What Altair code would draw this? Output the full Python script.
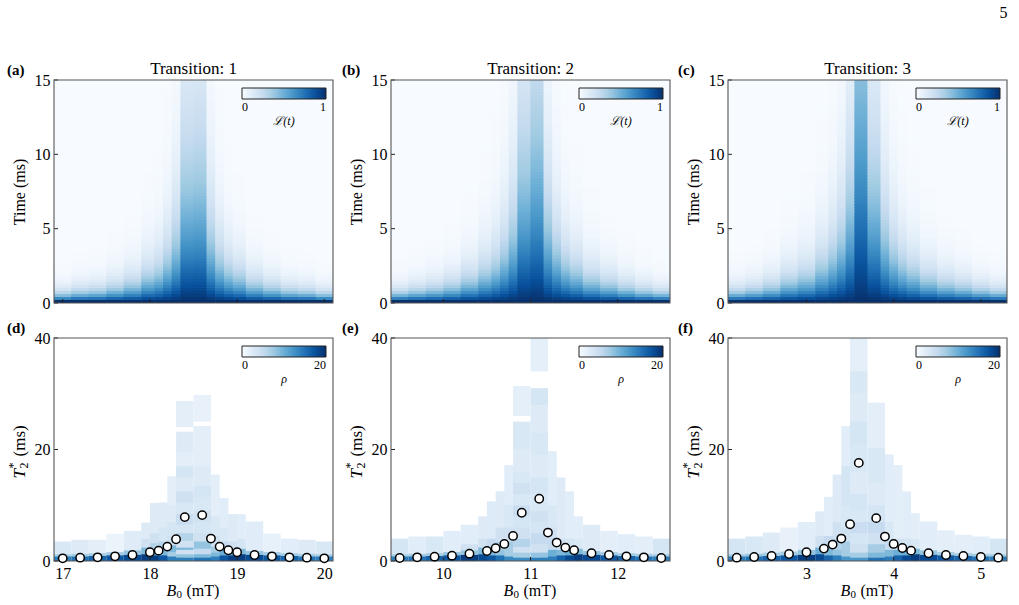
import altair as alt
import numpy as np
import pandas as pd

FONT = "Liberation Serif"
BLUES = ["#f7fbff", "#deebf7", "#c6dbef", "#9ecae1", "#6baed6",
         "#4292c6", "#2171b5", "#08519c", "#08306b"]

W, H = 279, 223

# ---- transition 1 ----
b0_1 = [17.0, 17.2, 17.4, 17.6, 17.8, 18.0, 18.1, 18.2, 18.3, 18.4,
        18.6, 18.7, 18.8, 18.9, 19.0, 19.2, 19.4, 19.6, 19.8, 20.0]
t2_1 = [0.48, 0.60, 0.66, 0.84, 1.08, 1.56, 1.86, 2.58, 3.90, 7.87,
        8.23, 4.02, 2.58, 1.92, 1.56, 1.08, 0.84, 0.66, 0.60, 0.48]
# T2* histogram per field column: [upper edge (ms), density]
rho_1 = [
    [[0.8, 14], [1.2, 7], [3.5, 3.0]],
    [[0.8, 15], [1.3, 7], [3.8, 2.5]],
    [[0.9, 16], [1.4, 7], [3.8, 2.0]],
    [[1.0, 17], [1.6, 7], [4.9, 1.2]],
    [[1.1, 18], [1.9, 8], [5.4, 2.4]],
    [[1.2, 19], [2.4, 9], [4.0, 4], [6.9, 2.5]],
    [[1.0, 19], [2.0, 10], [3.2, 6], [5.0, 4], [10.4, 2.5]],
    [[1.0, 17], [2.0, 9], [3.5, 6], [6.0, 3.5], [10.5, 2.5]],
    [[0.8, 14], [1.6, 7], [2.8, 9], [4.5, 4], [7.0, 3.5], [10, 2.5], [15.2, 2.0]],
    [[0.6, 14], [1.2, 8], [2.0, 4], [2.4, 9], [3.6, 4], [5.0, 6], [6.5, 3.5], [8.5, 4.5],
     [10.5, 3], [12.5, 4], [15, 2.5], [17, 3.5], [19.5, 2.0], [23.2, 2.5], [24, 0], [28.7, 2.0]],
    [[0.6, 15], [1.2, 9], [2.2, 5], [3.5, 8], [5.0, 4], [7.0, 3.5], [9.0, 4], [11.5, 3],
     [13.5, 3.5], [17, 2.5], [24.2, 2.0], [25, 0], [29.8, 1.5]],
    [[0.8, 14], [1.5, 9], [2.6, 7], [4.5, 4], [8, 3], [15.5, 2.0]],
    [[1.0, 17], [2.0, 10], [3.5, 5], [6, 3], [11.3, 2.2]],
    [[1.0, 19], [2.0, 10], [3.5, 4], [8.4, 2.5]],
    [[1.2, 19], [2.2, 9], [4.0, 3.5], [8.4, 2.2]],
    [[1.1, 18], [1.8, 8], [7.1, 2.3]],
    [[1.0, 17], [1.6, 7], [4.9, 1.6]],
    [[0.9, 16], [1.4, 7], [4.0, 2.2]],
    [[0.8, 15], [1.3, 7], [3.8, 2.5]],
    [[0.8, 14], [1.2, 7], [3.5, 3.0]],
]
xdom_1, xticks_1 = [16.9, 20.1], [17, 18, 19, 20]

# ---- transition 2 ----
b0_2 = [9.5, 9.7, 9.9, 10.1, 10.3, 10.5, 10.6, 10.7, 10.8, 10.9,
        11.1, 11.2, 11.3, 11.4, 11.5, 11.7, 11.9, 12.1, 12.3, 12.5]
t2_2 = [0.54, 0.66, 0.78, 0.96, 1.32, 1.80, 2.28, 3.06, 4.50, 8.65,
        11.17, 5.10, 3.30, 2.40, 1.92, 1.38, 1.08, 0.84, 0.66, 0.54]
rho_2 = [
    [[0.8, 14], [1.2, 7], [4.0, 3.5]],
    [[0.8, 15], [1.3, 7], [4.4, 2.2]],
    [[0.9, 16], [1.4, 7], [4.4, 3.0]],
    [[1.0, 17], [1.6, 8], [5.4, 2.2]],
    [[1.1, 19], [1.9, 8], [3.0, 4], [6.5, 2.2]],
    [[1.2, 18], [2.4, 9], [4.0, 4], [8.0, 2.5]],
    [[1.0, 17], [2.5, 9], [4.0, 5], [10.7, 2.6]],
    [[1.0, 15], [2.0, 8], [3.5, 6], [6.0, 4], [12.5, 2.5]],
    [[0.8, 13], [2.0, 7], [3.5, 7], [6.0, 4], [10, 3], [17.2, 2.2]],
    [[0.6, 13], [1.5, 7], [2.5, 4], [4, 6], [6, 4], [8, 3.5], [10, 4.5], [12, 3], [14, 4],
     [16, 3], [20, 2.5], [25, 3], [26, 0], [31.4, 1.8]],
    [[0.6, 14], [1.5, 8], [3, 4], [5, 5], [7, 3.5], [9, 4], [12, 3], [15, 3.5], [19, 2.5],
     [23, 3], [28, 2.5], [31, 3.5], [34, 0], [40, 1.8]],
    [[0.8, 14], [2.0, 10], [4.0, 5], [6, 4], [10, 3], [19.7, 2.2]],
    [[1.0, 16], [2.0, 9], [4, 4], [15, 2.5]],
    [[1.0, 18], [2.0, 10], [4, 3.5], [12.5, 2.2]],
    [[1.2, 19], [2.2, 9], [4, 3], [8.0, 2.2]],
    [[1.1, 18], [1.8, 8], [6.5, 2.5]],
    [[1.0, 17], [1.6, 7], [5.4, 2.0]],
    [[0.9, 16], [1.4, 7], [4.8, 2.2]],
    [[0.8, 15], [1.3, 7], [4.4, 2.0]],
    [[0.8, 14], [1.2, 7], [4.0, 3.5]],
]
xdom_2, xticks_2 = [9.4, 12.6], [10, 11, 12]

# ---- transition 3 ----
b0_3 = [2.2, 2.4, 2.6, 2.8, 3.0, 3.2, 3.3, 3.4, 3.5, 3.6,
        3.8, 3.9, 4.0, 4.1, 4.2, 4.4, 4.6, 4.8, 5.0, 5.2]
t2_3 = [0.60, 0.72, 0.90, 1.26, 1.56, 2.22, 2.94, 4.02, 6.60, 17.6,
        7.69, 4.38, 3.06, 2.34, 1.86, 1.38, 1.08, 0.90, 0.72, 0.60]
rho_3 = [
    [[0.8, 14], [1.2, 7], [4.0, 3.5]],
    [[0.8, 15], [1.3, 8], [4.4, 3.0]],
    [[0.9, 16], [1.5, 7], [5.1, 2.5]],
    [[1.0, 17], [1.7, 7], [6.0, 1.5]],
    [[1.1, 19], [2.0, 8], [7.0, 2.2]],
    [[1.2, 18], [2.4, 10], [4.5, 4], [8.9, 2.5]],
    [[1.0, 16], [2.5, 9], [4.5, 5], [11.5, 2.2]],
    [[1.0, 14], [2.0, 8], [4.0, 6], [7, 4], [15.5, 2.5]],
    [[0.8, 12], [2.0, 7], [3.5, 7], [6, 4], [10, 3], [17, 3.5], [24.2, 2.2]],
    [[0.6, 12], [1.5, 7], [3, 4], [5, 3.5], [7, 4.5], [9, 3], [12, 3.5], [16, 2.5],
     [21, 3], [25, 3.5], [30, 2.5], [34, 3], [40, 1.8]],
    [[0.6, 15], [1.5, 9], [3, 7], [5, 4], [7, 5], [10, 3.5], [14, 2.5], [20.3, 3], [28.4, 2.0]],
    [[0.8, 14], [2.0, 9], [4, 5], [7, 3], [19.1, 2.2]],
    [[1.0, 16], [2.0, 10], [4, 4], [17.2, 2.0]],
    [[1.0, 18], [2.0, 10], [4, 3.5], [12.5, 2.2]],
    [[1.2, 19], [2.2, 9], [4, 3], [8.6, 2.0]],
    [[1.1, 18], [1.9, 8], [7.1, 2.2]],
    [[1.0, 17], [1.6, 7], [5.5, 2.0]],
    [[0.9, 16], [1.4, 7], [4.7, 2.0]],
    [[0.8, 15], [1.3, 7], [4.4, 2.2]],
    [[0.8, 14], [1.2, 7], [4.0, 3.5]],
]
xdom_3, xticks_3 = [2.1, 5.3], [3, 4, 5]

time_step = 0.2
time_max = 15.0
bar_width = 0.2
# small overlap so neighbouring cells leave no anti-aliasing seams
seam_t, seam_b = 0.06, 0.006


def blues(vmax):
    return alt.Scale(domain=[vmax * i / 8 for i in range(9)], range=BLUES,
                     interpolate="rgb", clamp=True)


def coherence_frame(b0, t2):
    """Coherence L(t) = exp(-t / T2*) on a field x time grid (pcolormesh cells)."""
    b = np.array(b0)
    mids = (b[1:] + b[:-1]) / 2
    edges = np.concatenate([[2 * b[0] - mids[0]], mids, [2 * b[-1] - mids[-1]]])
    times = np.arange(0, time_max - 1e-9, time_step)
    rows = []
    for i, tau in enumerate(t2):
        x1 = edges[i + 1] + (seam_b if i < len(t2) - 1 else 0)
        for t in times:
            rows.append({"x0": edges[i], "x1": x1, "t0": t,
                         "t1": min(t + time_step + seam_t, time_max),
                         "L": float(np.exp(-t / tau))})
    return pd.DataFrame(rows)


def histogram_frame(b0, bands):
    centre = (b0[0] + b0[-1]) / 2
    rows = []
    for b, col in zip(b0, bands):
        lo = 0.0
        for k, (up, rho) in enumerate(col):
            if rho > 0:
                top = up + (0.1 if k < len(col) - 1 and col[k + 1][1] > 0 else 0)
                rows.append({"x0": b - bar_width / 2, "x1": b + bar_width / 2,
                             "y0": lo, "y1": top, "rho": rho,
                             "layer": -abs(b - centre), "k": k})
            lo = up
    df = pd.DataFrame(rows)
    return df.sort_values(["layer", "k"], kind="stable").reset_index(drop=True)


def text(s, x, y, size=16, **kw):
    return alt.Chart(pd.DataFrame({"s": [s]})).mark_text(
        font=FONT, fontSize=size, color="black", **kw
    ).encode(text="s:N", x=alt.value(x), y=alt.value(y))


def frame():
    return alt.Chart(pd.DataFrame({"a": [0]})).mark_rect(
        filled=False, stroke="#555", strokeWidth=1.1
    ).encode(x=alt.value(0), x2=alt.value(W), y=alt.value(0), y2=alt.value(H))


def tick_rules(xticks, yticks, ax_x, ax_y):
    xt = alt.Chart(pd.DataFrame({"v": xticks})).mark_rule(color="#222", strokeWidth=1).encode(
        x=alt.X("v:Q", axis=ax_x), y=alt.value(H), y2=alt.value(H - 4))
    yt = alt.Chart(pd.DataFrame({"v": yticks})).mark_rule(color="#222", strokeWidth=1).encode(
        y=alt.Y("v:Q", axis=ax_y), x=alt.value(0), x2=alt.value(4))
    return xt, yt


def colorbar_legend(title, values):
    return alt.Legend(
        type="gradient", orient="none", legendX=188, legendY=8, direction="horizontal",
        gradientLength=84, gradientThickness=11, values=values, format="d", title=title,
        titleOrient="bottom", titleAnchor="middle", titleFont=FONT, titleFontSize=12,
        titleFontStyle="italic", titleFontWeight="normal", titlePadding=3,
        labelFont=FONT, labelFontSize=12, labelAlign="center", labelOffset=3,
        gradientStrokeColor="#222", gradientStrokeWidth=1, padding=0)


def top_panel(b0, t2, xdom, xticks, title, tag, tag_x):
    df = coherence_frame(b0, t2)
    xs = alt.Scale(domain=xdom, nice=False, zero=False)
    ys = alt.Scale(domain=[0, time_max], nice=False)
    ax_y = alt.Axis(values=[0, 5, 10, 15], title="Time (ms)", titlePadding=7, labelPadding=4)
    heat = alt.Chart(df).mark_rect().encode(
        x=alt.X("x0:Q", scale=xs, axis=None),
        x2="x1",
        y=alt.Y("t0:Q", scale=ys, axis=ax_y),
        y2="t1",
        color=alt.Color("L:Q", scale=blues(1), legend=colorbar_legend("ℒ(t)", [0, 1])),
    )
    xt, yt = tick_rules(xticks, [0, 5, 10, 15], None, ax_y)
    layers = [heat, xt, yt, frame(),
              text(tag, tag_x, -10, size=15, fontWeight="bold", align="left"),
              text(title, W / 2, -11, size=17, align="center")]
    return alt.layer(*layers).properties(width=W, height=H)


def bottom_panel(b0, t2, bands, xdom, xticks, tag, tag_x):
    df = histogram_frame(b0, bands)
    pts = pd.DataFrame({"b": b0, "t2": t2})
    xs = alt.Scale(domain=xdom, nice=False, zero=False)
    ys = alt.Scale(domain=[0, 40], nice=False)
    ax_x = alt.Axis(values=xticks, title=None, labelPadding=4)
    ax_y = alt.Axis(values=[0, 20, 40], title=None, labelPadding=4)
    hist = alt.Chart(df).mark_rect().encode(
        x=alt.X("x0:Q", scale=xs, axis=ax_x),
        x2="x1",
        y=alt.Y("y0:Q", scale=ys, axis=ax_y),
        y2="y1",
        color=alt.Color("rho:Q", scale=blues(20), legend=colorbar_legend("ρ", [0, 20])),
    )
    dots = alt.Chart(pts).mark_point(
        shape="circle", filled=True, fill="white", stroke="black", strokeWidth=1.5,
        size=70, opacity=1).encode(x=alt.X("b:Q", axis=ax_x), y=alt.Y("t2:Q", axis=ax_y))
    xt, yt = tick_rules(xticks, [0, 20, 40], ax_x, ax_y)
    cx = W / 2 - 27
    cy = H / 2
    layers = [hist, xt, yt, frame(), dots,
              text(tag, tag_x, -10, size=15, fontWeight="bold", align="left"),
              # x label: B_0 (mT)
              text("B", cx, H + 30, fontStyle="italic", align="left"),
              text("0", cx + 10, H + 34, size=11, align="left"),
              text("(mT)", cx + 20, H + 30, align="left"),
              # y label: T_2^* (ms), rotated
              text("T", -34, cy + 29, size=17, fontStyle="italic", align="left", angle=270),
              text("2", -30, cy + 19, size=12, align="left", angle=270),
              text("*", -41, cy + 19, size=12, align="left", angle=270),
              text("(ms)", -34, cy + 7, size=17, align="left", angle=270)]
    return alt.layer(*layers).properties(width=W, height=H)


pa = top_panel(b0_1, t2_1, xdom_1, xticks_1, "Transition: 1", "(a)", -47)
pb = top_panel(b0_2, t2_2, xdom_2, xticks_2, "Transition: 2", "(b)", -49)
pc = top_panel(b0_3, t2_3, xdom_3, xticks_3, "Transition: 3", "(c)", -50)
pd_ = bottom_panel(b0_1, t2_1, rho_1, xdom_1, xticks_1, "(d)", -47)
pe = bottom_panel(b0_2, t2_2, rho_2, xdom_2, xticks_2, "(e)", -49)
pf = bottom_panel(b0_3, t2_3, rho_3, xdom_3, xticks_3, "(f)", -50)

chart = alt.concat(
    pa, pb, pc, pd_, pe, pf, columns=3,
    spacing={"row": 35, "column": 58}, bounds="flush",
).resolve_scale(
    color="independent", x="independent", y="independent"
).properties(
    # page number in the top-right corner
    title=alt.TitleParams("5", anchor="end", font=FONT, fontSize=16, fontWeight="normal",
                          color="black", offset=39),
    padding={"left": 7, "top": 5, "right": 5, "bottom": 5},
).configure_view(
    stroke=None
).configure_axis(
    labelFont=FONT, labelFontSize=16, labelColor="black", titleFont=FONT,
    titleFontSize=16, titleFontWeight="normal", titleColor="black",
    domain=False, ticks=False, tickSize=0, grid=False
).configure_title(font=FONT)

chart.save("out.html", embed_options={"renderer": "svg", "actions": False})
